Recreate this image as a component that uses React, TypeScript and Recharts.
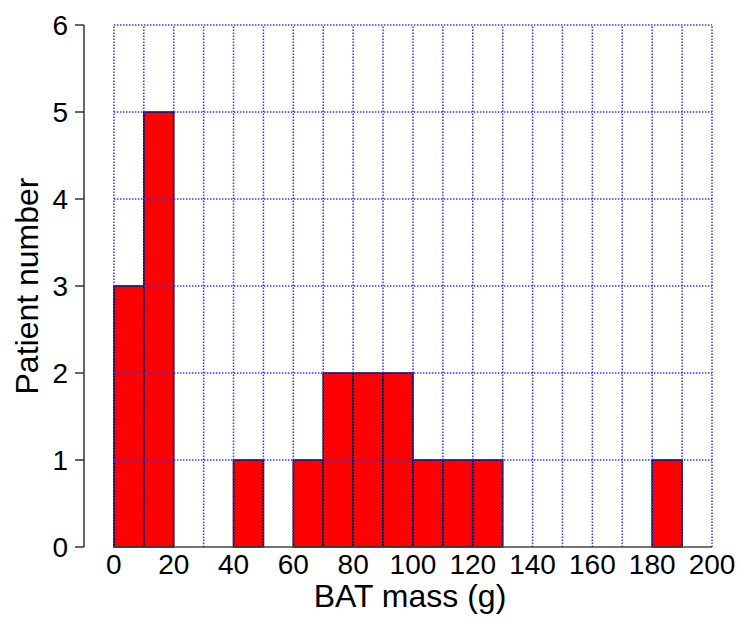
import React from 'react';
import { ComposedChart, Bar, XAxis, YAxis, ReferenceLine } from 'recharts';

// histogram bins of 10 g, patient counts per bin
const binStarts = [0, 10, 20, 30, 40, 50, 60, 70, 80, 90, 100, 110, 120, 130, 140, 150, 160, 170, 180, 190];
const patientCounts = [3, 5, 0, 0, 1, 0, 1, 2, 2, 2, 1, 1, 1, 0, 0, 0, 0, 0, 1, 0];

const xTicks = [0, 20, 40, 60, 80, 100, 120, 140, 160, 180, 200];
const yTicks = [0, 1, 2, 3, 4, 5, 6];
const gridX = [0, 10, 20, 30, 40, 50, 60, 70, 80, 90, 100, 110, 120, 130, 140, 150, 160, 170, 180, 190, 200];
const gridY = [1, 2, 3, 4, 5, 6];

const data = binStarts.map((start, i) => ({ mid: start + 5, count: patientCounts[i] }));

const font = 'Liberation Sans, Arial, Helvetica, sans-serif';
const gridColor = '#3535ff';

export default function App() {
  return (
    <div style={{ position: 'absolute', left: 0, top: 0, fontFamily: font }}>
      <ComposedChart
        width={738}
        height={619}
        data={data}
        margin={{ top: 25, right: 26, bottom: 0, left: 0 }}
      >
        <XAxis
          dataKey="mid"
          type="number"
          domain={[-10, 200]}
          ticks={xTicks}
          interval={0}
          height={72}
          axisLine={false}
          tickLine={false}
          tickSize={0}
          tickMargin={7}
          tick={{ fill: '#000', fontSize: 28, fontFamily: font }}
          label={{ value: 'BAT mass (g)', position: 'insideBottom', offset: 12, dx: 12, fill: '#000', fontSize: 32, fontFamily: font }}
        />
        <YAxis
          type="number"
          domain={[0, 6]}
          ticks={yTicks}
          interval={0}
          width={84}
          tickSize={9}
          tickMargin={7}
          axisLine={{ stroke: '#333', strokeWidth: 1.5 }}
          tickLine={{ stroke: '#333', strokeWidth: 1.5 }}
          tick={{ fill: '#000', fontSize: 28, fontFamily: font }}
          label={{ value: 'Patient number', angle: -90, position: 'center', dx: -15, fill: '#000', fontSize: 32, fontFamily: font }}
        />
        {gridX.map((x) => (
          <ReferenceLine key={'gx' + x} x={x} stroke={gridColor} strokeDasharray="1.5 1.5" strokeWidth={1.5} />
        ))}
        {gridY.map((y) => (
          <ReferenceLine
            key={'gy' + y}
            segment={[{ x: 0, y }, { x: 200, y }]}
            stroke={gridColor}
            strokeDasharray="1.5 1.5"
            strokeWidth={1.5}
          />
        ))}
        <Bar dataKey="count" fill="#ff0000" stroke="#000" strokeWidth={1.6} barSize={29.9} isAnimationActive={false} />
        <ReferenceLine segment={[{ x: 0, y: 0 }, { x: 200, y: 0 }]} stroke="#444" strokeWidth={1.5} />
      </ComposedChart>
    </div>
  );
}
